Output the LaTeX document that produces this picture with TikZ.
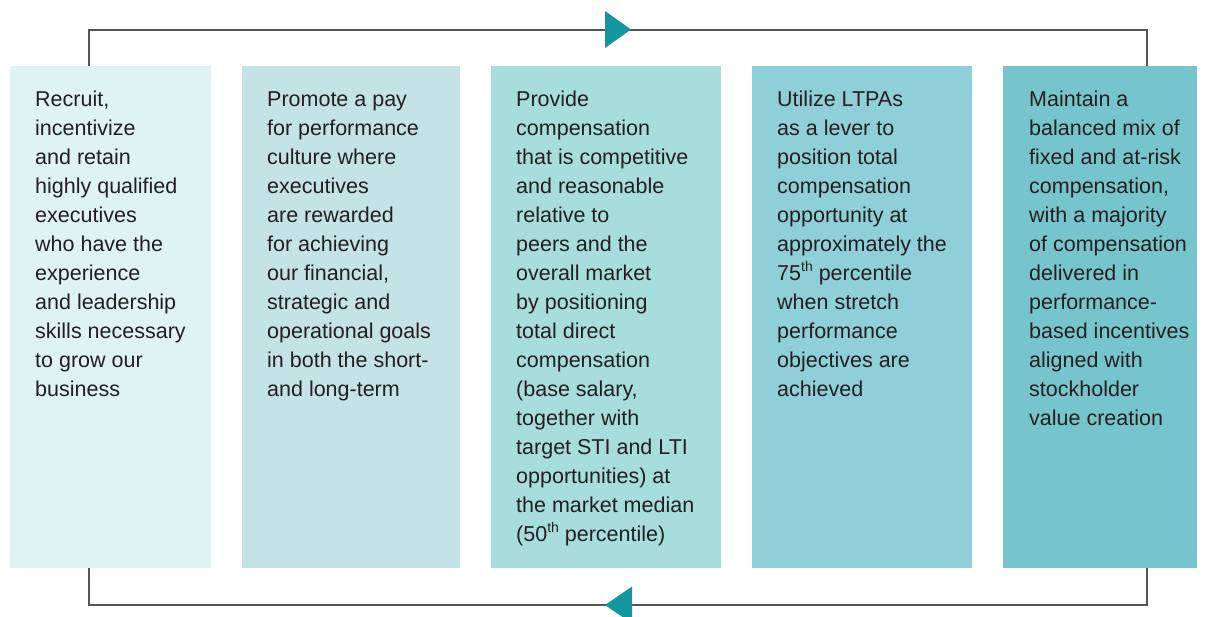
\documentclass[tikz,border=0pt]{standalone}
\usepackage{fontspec}
\setmainfont{Liberation Sans}
\definecolor{cA}{HTML}{E0F3F3}
\definecolor{cB}{HTML}{C4E3E7}
\definecolor{cC}{HTML}{A7DDDD}
\definecolor{cD}{HTML}{8FCFD7}
\definecolor{cE}{HTML}{76C5CC}
\definecolor{tri}{HTML}{13979E}
\definecolor{loopgray}{HTML}{555555}
\definecolor{txt}{HTML}{231F20}
\newcommand{\supth}{\raisebox{0.42em}{\fontsize{14}{14}\selectfont th}}
\begin{document}
\begin{tikzpicture}[x=1pt,y=-1pt,
  panel/.style={inner sep=0pt, outer sep=0pt, anchor=north west},
  label/.style={inner sep=0pt, anchor=base west, align=left, text=txt,
    font=\fontsize{21.5}{29}\selectfont},
  loopline/.style={draw=loopgray, line width=1.8pt}]
\useasboundingbox (0,0) rectangle (1210,616);
\clip (0,0) rectangle (1210,616);
\fill[white] (0,0) rectangle (1210,616);
% panels
\node[panel, fill=cA, minimum width=201pt, minimum height=502pt] (b1) at (10,66) {};
\node[panel, fill=cB, minimum width=218pt, minimum height=502pt] (b2) at (242,66) {};
\node[panel, fill=cC, minimum width=230pt, minimum height=502pt] (b3) at (491,66) {};
\node[panel, fill=cD, minimum width=220pt, minimum height=502pt] (b4) at (752,66) {};
\node[panel, fill=cE, minimum width=194pt, minimum height=502pt] (b5) at (1003,66) {};
% loop
\coordinate (tl) at (89,30);
\coordinate (tr) at (1147,30);
\coordinate (bl) at (89,605);
\coordinate (br) at (1147,605);
\draw[loopline] (tl |- b1.north) -- (tl) -- (tr) -- (tr |- b5.north);
\draw[loopline] (bl |- b1.south) -- (bl) -- (br) -- (br |- b5.south);
\fill[tri] (605,11) -- (631,29.5) -- (605,48) -- cycle;
\fill[tri] (632,586.5) -- (605,605) -- (632,623.5) -- cycle;
% texts (anchored at baseline of last line)
\node[label] (t1) at (35,396.5) {Recruit,\\incentivize\\and retain\\highly qualified\\executives\\who have the\\experience\\and leadership\\skills necessary\\to grow our\\business};
\node[label] (t2) at (267,396.5) {Promote a pay\\for performance\\culture where\\executives\\are rewarded\\for achieving\\our financial,\\strategic and\\operational goals\\in both the short-\\and long-term};
\node[label] (t3) at (516,541.5) {Provide\\compensation\\that is competitive\\and reasonable\\relative to\\peers and the\\overall market\\by positioning\\total direct\\compensation\\(base salary,\\together with\\target STI and LTI\\opportunities) at\\the market median\\(50\supth{} percentile)};
\node[label] (t4) at (777,396.5) {Utilize LTPAs\\as a lever to\\position total\\compensation\\opportunity at\\approximately the\\75\supth{} percentile\\when stretch\\performance\\objectives are\\achieved};
\node[label] (t5) at (1029,425.5) {Maintain a\\balanced mix of\\fixed and at-risk\\compensation,\\with a majority\\of compensation\\delivered in\\performance-\\based incentives\\aligned with\\stockholder\\value creation};
\end{tikzpicture}
\end{document}
